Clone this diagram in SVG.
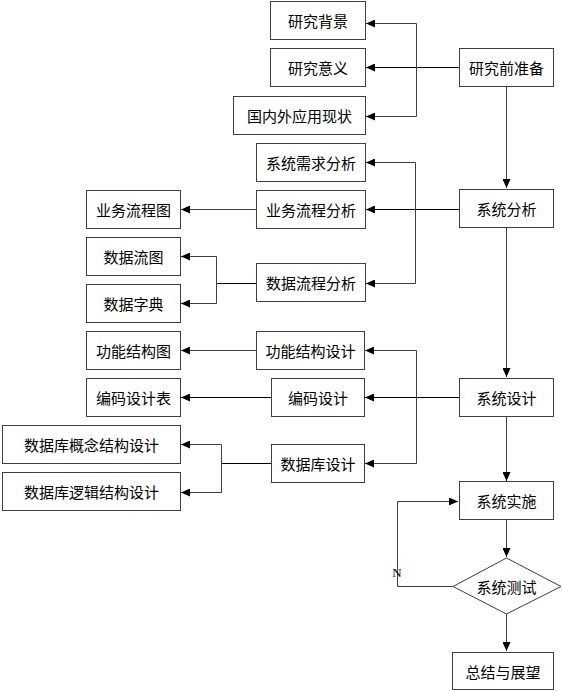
<svg xmlns="http://www.w3.org/2000/svg" width="562" height="691" viewBox="0 0 562 691">
<defs>
<marker id="ah" markerWidth="10" markerHeight="8" refX="9" refY="4" orient="auto" markerUnits="userSpaceOnUse">
<path d="M0,0 L9,4 L0,8 Z" fill="#000"/>
</marker>
<style>
.box{fill:#fff;stroke:#404040;stroke-width:1}
.t{font-family:"Noto Sans CJK SC","Noto Sans CJK JP",sans-serif;font-size:15px;fill:#000;text-anchor:middle;dominant-baseline:central}
.n{font-family:"Liberation Serif",serif;font-size:13px;fill:#000;text-anchor:middle;dominant-baseline:central}
.ln{fill:none;stroke:#000;stroke-width:1}
.lg{fill:none;stroke:#404040;stroke-width:1}
</style>
</defs>
<rect width="562" height="691" fill="#fff"/>
<g id="connectors">
<path class="ln" d="M459.5,67.5 H366" marker-end="url(#ah)"/>
<path class="lg" d="M416.5,23.5 V116.5"/>
<path class="lg" d="M416.5,23.5 H366" marker-end="url(#ah)"/>
<path class="lg" d="M416.5,116.5 H366" marker-end="url(#ah)"/>
<path class="lg" d="M506.5,87 V188" marker-end="url(#ah)"/>
<path class="ln" d="M459.5,209.5 H366" marker-end="url(#ah)"/>
<path class="lg" d="M415.5,162.5 V283.5"/>
<path class="lg" d="M415.5,162.5 H366" marker-end="url(#ah)"/>
<path class="lg" d="M415.5,283.5 H366" marker-end="url(#ah)"/>
<path class="lg" d="M256.5,209.5 H181" marker-end="url(#ah)"/>
<path class="ln" d="M256.5,283.5 H216.5"/>
<path class="lg" d="M216.5,256.5 V303.5"/>
<path class="lg" d="M216.5,256.5 H181" marker-end="url(#ah)"/>
<path class="lg" d="M216.5,303.5 H181" marker-end="url(#ah)"/>
<path class="lg" d="M506.5,228 V377" marker-end="url(#ah)"/>
<path class="ln" d="M459.5,397.5 H365" marker-end="url(#ah)"/>
<path class="lg" d="M416.5,350.5 V463.5"/>
<path class="lg" d="M416.5,350.5 H365" marker-end="url(#ah)"/>
<path class="lg" d="M416.5,463.5 H365" marker-end="url(#ah)"/>
<path class="lg" d="M256.5,350.5 H181" marker-end="url(#ah)"/>
<path class="ln" d="M271.5,397.5 H181" marker-end="url(#ah)"/>
<path class="ln" d="M271.5,463.5 H221.5"/>
<path class="lg" d="M221.5,444.5 V492.5"/>
<path class="lg" d="M221.5,444.5 H181" marker-end="url(#ah)"/>
<path class="lg" d="M221.5,492.5 H181" marker-end="url(#ah)"/>
<path class="lg" d="M506.5,416 V481" marker-end="url(#ah)"/>
<path class="lg" d="M506.5,519 V557" marker-end="url(#ah)"/>
<path class="lg" d="M506.5,614 V651" marker-end="url(#ah)"/>
<path class="lg" d="M453,586.5 H397.5 V501.5 H458" marker-end="url(#ah)"/>
<text class="n" x="397" y="572">N</text>
</g>
<g id="n_yjbj"><rect class="box" x="270.5" y="1.5" width="95" height="38"/><text class="t" x="318" y="20.5">研究背景</text></g>
<g id="n_yjyy"><rect class="box" x="270.5" y="48.5" width="95" height="38"/><text class="t" x="318" y="67.5">研究意义</text></g>
<g id="n_gnw"><rect class="box" x="233.5" y="96.5" width="132" height="38"/><text class="t" x="299.5" y="115.5">国内外应用现状</text></g>
<g id="n_yjqzb"><rect class="box" x="459.5" y="48.5" width="94" height="38"/><text class="t" x="506.5" y="67.5">研究前准备</text></g>
<g id="n_xtxq"><rect class="box" x="256.5" y="143.5" width="109" height="38"/><text class="t" x="311" y="162.5">系统需求分析</text></g>
<g id="n_ywlcfx"><rect class="box" x="256.5" y="190.5" width="109" height="38"/><text class="t" x="311" y="209.5">业务流程分析</text></g>
<g id="n_ywlct"><rect class="box" x="86.5" y="190.5" width="94" height="38"/><text class="t" x="133.5" y="209.5">业务流程图</text></g>
<g id="n_xtfx"><rect class="box" x="459.5" y="189.5" width="94" height="38"/><text class="t" x="506.5" y="208.5">系统分析</text></g>
<g id="n_sjlt"><rect class="box" x="86.5" y="237.5" width="94" height="38"/><text class="t" x="133.5" y="256.5">数据流图</text></g>
<g id="n_sjzd"><rect class="box" x="86.5" y="284.5" width="94" height="38"/><text class="t" x="133.5" y="303.5">数据字典</text></g>
<g id="n_sjlcfx"><rect class="box" x="256.5" y="263.5" width="109" height="38"/><text class="t" x="311" y="282.5">数据流程分析</text></g>
<g id="n_gnjgt"><rect class="box" x="86.5" y="331.5" width="94" height="38"/><text class="t" x="133.5" y="350.5">功能结构图</text></g>
<g id="n_gnjgsj"><rect class="box" x="256.5" y="331.5" width="108" height="38"/><text class="t" x="310.5" y="350.5">功能结构设计</text></g>
<g id="n_bmsjb"><rect class="box" x="86.5" y="378.5" width="94" height="38"/><text class="t" x="133.5" y="397.5">编码设计表</text></g>
<g id="n_bmsj"><rect class="box" x="271.5" y="378.5" width="93" height="38"/><text class="t" x="318" y="397.5">编码设计</text></g>
<g id="n_xtsj"><rect class="box" x="459.5" y="378.5" width="94" height="38"/><text class="t" x="506.5" y="397.5">系统设计</text></g>
<g id="n_gnjg"><rect class="box" x="2.5" y="425.5" width="178" height="38"/><text class="t" x="91.5" y="444.5">数据库概念结构设计</text></g>
<g id="n_ljjg"><rect class="box" x="2.5" y="472.5" width="178" height="38"/><text class="t" x="91.5" y="491.5">数据库逻辑结构设计</text></g>
<g id="n_sjksj"><rect class="box" x="271.5" y="444.5" width="93" height="38"/><text class="t" x="318" y="463.5">数据库设计</text></g>
<g id="n_xtss"><rect class="box" x="459.5" y="481.5" width="94" height="38"/><text class="t" x="506.5" y="500.5">系统实施</text></g>
<g id="n_xtcs"><path class="box" d="M506.5,558 L561,586.5 L506.5,614 L453,586.5 Z"/><text class="t" x="506.5" y="586.5">系统测试</text></g>
<g id="n_zj"><rect class="box" x="452.5" y="652.5" width="101" height="37"/><text class="t" x="503" y="671">总结与展望</text></g>
</svg>
